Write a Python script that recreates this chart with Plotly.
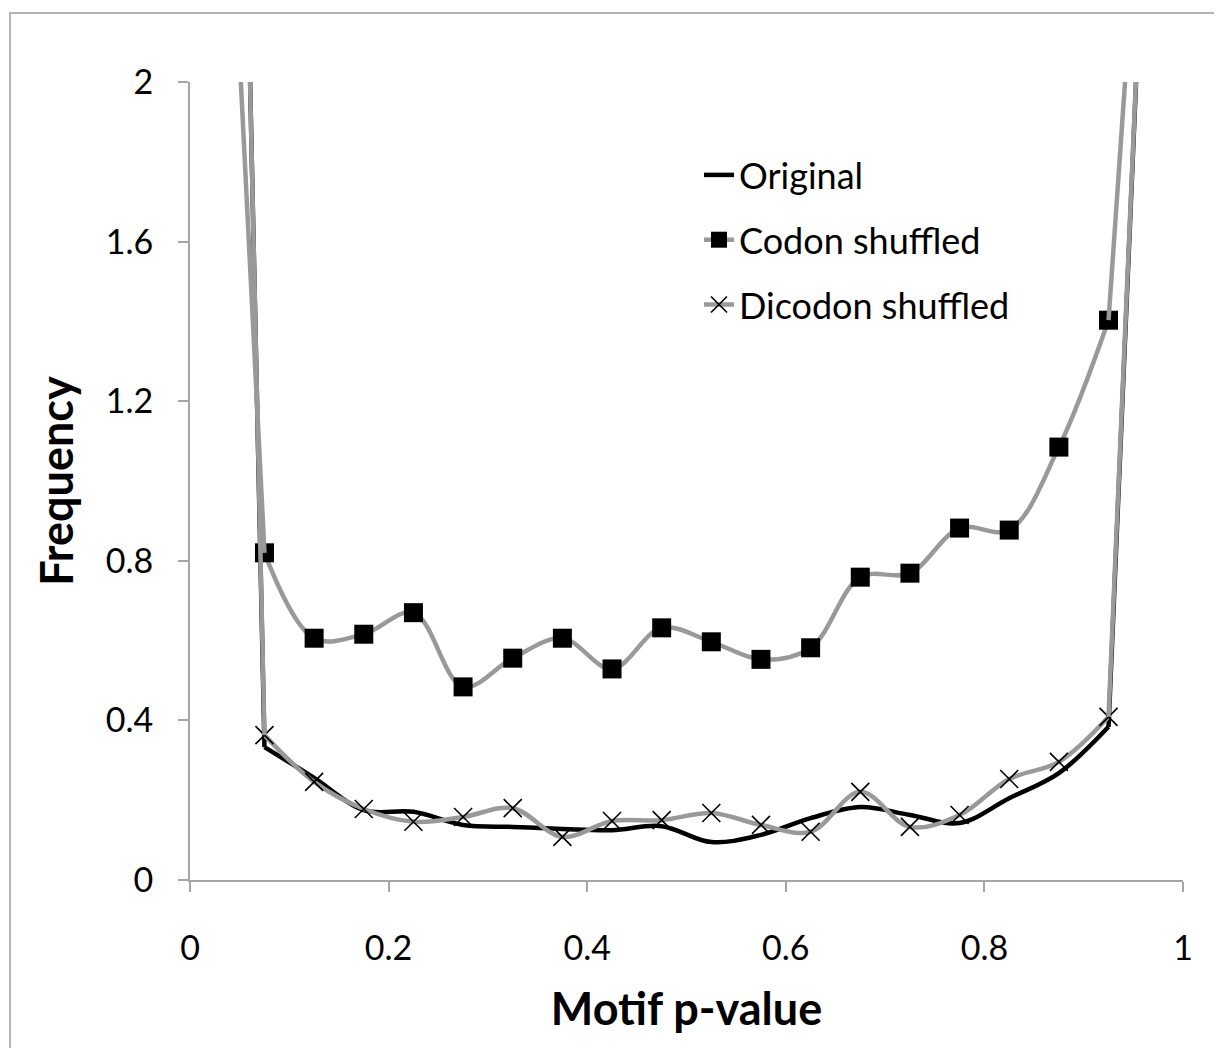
import plotly.graph_objects as go

# Bin centres of motif p-value (bin width 0.05)
p_values = [0.025, 0.075, 0.125, 0.175, 0.225, 0.275, 0.325, 0.375, 0.425, 0.475,
            0.525, 0.575, 0.625, 0.675, 0.725, 0.775, 0.825, 0.875, 0.925, 0.975]

original = [6.1, 0.333, 0.256, 0.175, 0.171, 0.138, 0.133, 0.128, 0.125, 0.135,
            0.095, 0.113, 0.155, 0.183, 0.163, 0.143, 0.205, 0.268, 0.384, 3.3]
codon_shuffled = [3.3, 0.820, 0.606, 0.616, 0.670, 0.484, 0.556, 0.606, 0.529, 0.632,
                  0.597, 0.553, 0.582, 0.759, 0.769, 0.882, 0.877, 1.085, 1.403, 3.2]
dicodon_shuffled = [6.0, 0.363, 0.246, 0.178, 0.146, 0.158, 0.180, 0.108, 0.148, 0.150,
                    0.168, 0.138, 0.121, 0.221, 0.133, 0.163, 0.253, 0.296, 0.409, 3.3]

x_ticks = [0, 0.2, 0.4, 0.6, 0.8, 1]
x_tick_labels = ["0", "0.2", "0.4", "0.6", "0.8", "1"]
y_ticks = [0, 0.4, 0.8, 1.2, 1.6, 2]
y_tick_labels = ["0", "0.4", "0.8", "1.2", "1.6", "2"]

FONT = "Lato, 'Open Sans', sans-serif"
GRAY = "#999999"

series = [
    ("Original", original, "black", "lines", None),
    ("Codon shuffled", codon_shuffled, GRAY, "lines+markers",
     dict(symbol="square", size=19, color="black")),
    ("Dicodon shuffled", dicodon_shuffled, GRAY, "lines+markers",
     dict(symbol="x-thin", size=18, color="black", line=dict(color="black", width=1.6))),
]

fig = go.Figure()
for name, vals, lcol, mode, marker in series:
    kw = dict(marker=marker) if marker else {}
    # interior bins: smoothed line
    fig.add_trace(go.Scatter(
        x=p_values[1:-1], y=vals[1:-1], name=name, mode=mode, legendgroup=name,
        line=dict(color=lcol, width=4.5, shape="spline", smoothing=1.0), **kw,
    ))
    # outermost bins rise far above the axis range
    for sl in (slice(0, 2), slice(-2, None)):
        fig.add_trace(go.Scatter(
            x=p_values[sl], y=vals[sl], mode="lines", legendgroup=name, showlegend=False,
            line=dict(color=lcol, width=4.5), hoverinfo="skip",
        ))

W, H = 1222, 1048
L, T = 182, 74
pw, ph = 993, 798
R, B = W - L - pw, H - T - ph

fig.update_layout(
    width=W, height=H,
    margin=dict(l=L, r=R, t=T, b=B),
    paper_bgcolor="white", plot_bgcolor="white",
    font=dict(family=FONT, size=34, color="black"),
    showlegend=True,
    legend=dict(x=(699 - 190) / pw, y=(880 - 145) / ph, xanchor="left", yanchor="top",
                font=dict(size=36, family=FONT), bgcolor="rgba(0,0,0,0)",
                traceorder="grouped", tracegroupgap=15, itemwidth=30),
    xaxis=dict(range=[0, 1], tickvals=x_ticks, ticktext=x_tick_labels,
               showgrid=False, zeroline=False, showline=True, linecolor="#a6a6a6",
               linewidth=2, ticks="outside", ticklen=10, tickwidth=2, tickcolor="#a6a6a6",
               ticklabelstandoff=27,
               title=dict(text="<b>Motif p-value</b>", font=dict(size=45, family=FONT),
                          standoff=28)),
    yaxis=dict(range=[0, 2], tickvals=y_ticks, ticktext=y_tick_labels,
               showgrid=False, zeroline=False, showline=True, linecolor="#a6a6a6",
               linewidth=2, ticks="outside", ticklen=10, tickwidth=2, tickcolor="#a6a6a6",
               ticklabelstandoff=18,
               title=dict(text="<b>Frequency</b>", font=dict(size=45, family=FONT),
                          standoff=18)),
    shapes=[dict(type="rect", xref="paper", yref="paper",
                 x0=(10 - 190) / pw, x1=(W + 40 - 190) / pw,
                 y0=(880 - (H + 40)) / ph, y1=(880 - 13) / ph,
                 line=dict(color="#b3b3b3", width=2), fillcolor="rgba(0,0,0,0)",
                 layer="below")],
)

fig.write_html("out.html")
